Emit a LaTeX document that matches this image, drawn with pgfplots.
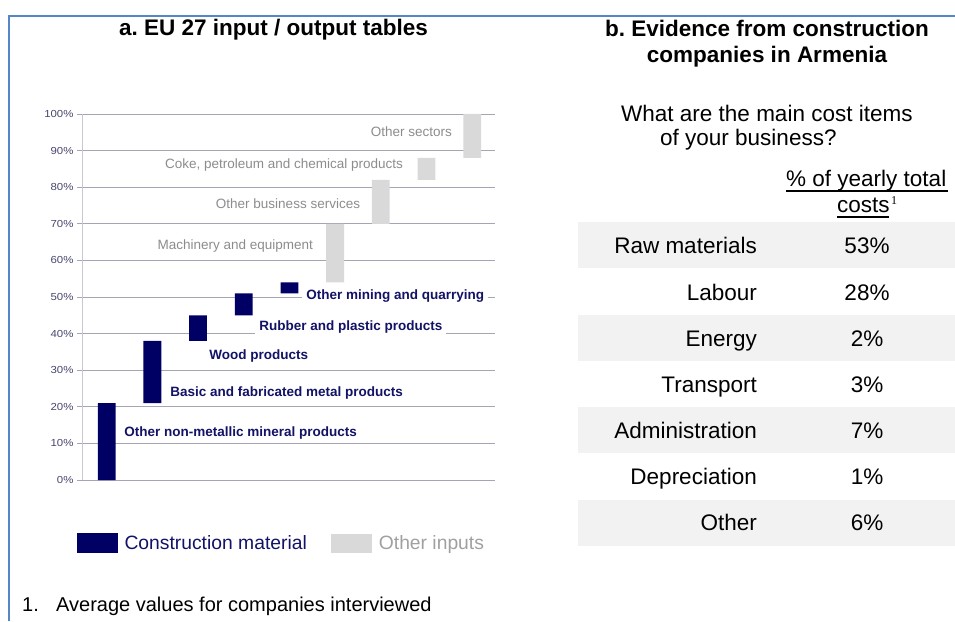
\documentclass[border=0pt]{standalone}
\usepackage{graphicx}
\usepackage{pgfplots}
\usepackage{pgfplotstable}
\pgfplotsset{compat=1.18}
\usepackage{fontspec}
\setmainfont{Liberation Sans}
\newfontfamily\seriffont{Liberation Serif}
\frenchspacing

\definecolor{navy}{RGB}{0,0,100}
\definecolor{navytext}{RGB}{18,18,102}
\definecolor{lgray}{RGB}{217,217,217}
\definecolor{graytext}{RGB}{140,140,140}
\definecolor{legray}{RGB}{160,160,160}
\definecolor{gridc}{RGB}{165,165,182}
\definecolor{axisc}{RGB}{200,200,210}
\definecolor{framec}{RGB}{84,134,200}
\definecolor{band}{RGB}{242,242,242}
\definecolor{ticktext}{RGB}{70,70,110}

\pgfplotstableread{
x base dark other
1 0  21 0
2 21 17 0
3 38 7  0
4 45 6  0
5 51 3  0
6 54 0  16
7 70 0  12
8 82 0  6
9 88 0  12
}\data

\newcommand\tfont{\fontsize{22.5pt}{27pt}\selectfont}
\newcommand\lfont{\fontsize{13.5pt}{15pt}\selectfont}

\begin{document}
\begin{tikzpicture}
\path[use as bounding box] (0pt,0pt) rectangle (955pt,621pt);
% frame
\draw[framec,line width=2.5pt] (9pt,0pt) -- (9pt,605pt) -- (955pt,605pt);

% titles
\node[anchor=base, font=\bfseries\tfont] at (273.5pt,585pt) {a. EU 27 input / output tables};
\node[anchor=base, font=\bfseries\tfont] at (767pt,584pt) {b. Evidence from construction};
\node[anchor=base, font=\bfseries\tfont] at (767pt,558pt) {companies in Armenia};

% question
\node[anchor=base west, font=\tfont, inner sep=0pt] at (621pt,499pt) {What are the main cost items};
\node[anchor=base west, font=\tfont, inner sep=0pt] at (660pt,475pt) {of your business?};
\node[anchor=base west, font=\tfont, inner sep=0pt] at (786pt,434pt) {\% of yearly total};
\draw[line width=1.5pt] (786pt,430pt) -- (948pt,430pt);
\node[anchor=base west, font=\tfont, inner sep=0pt] at (837pt,408pt) {costs};
\draw[line width=1.5pt] (837pt,404pt) -- (889pt,404pt);
\node[anchor=base west, font=\seriffont\fontsize{12pt}{14pt}\selectfont, inner sep=0pt] at (891pt,416pt) {1};

% table bands
\fill[band] (578pt,353pt) rectangle (955pt,399pt);
\fill[band] (578pt,260pt) rectangle (955pt,306pt);
\fill[band] (578pt,168pt) rectangle (955pt,214pt);
\fill[band] (578pt,75pt) rectangle (955pt,121pt);

% table text
\foreach \lab/\val/\yy in {Raw materials/53\%/367, Labour/28\%/320, Energy/2\%/274, Transport/3\%/228, Administration/7\%/182, Depreciation/1\%/136, Other/6\%/90}{
  \node[anchor=base east, font=\tfont, inner sep=0pt] at (757pt,\yy pt) {\lab};
  \node[anchor=base, font=\tfont, inner sep=0pt] at (867pt,\yy pt) {\val};
}

% footnote
\node[anchor=base west, font=\fontsize{20pt}{24pt}\selectfont, inner sep=0pt] at (22pt,10pt) {1.};
\node[anchor=base west, font=\fontsize{20pt}{24pt}\selectfont, inner sep=0pt] at (56pt,10pt) {Average values for companies interviewed};

\begin{axis}[
  at={(82pt,141pt)}, anchor=south west,
  width=413pt, height=366pt, scale only axis,
  xmin=0.46, xmax=9.5, ymin=0, ymax=100,
  axis x line=none, axis y line*=left,
  y axis line style={draw=axisc, line width=0.8pt},
  ytick={0,10,...,100},
  ymajorgrids, grid style={gridc, line width=0.8pt},
  ytick style={draw=gridc, line width=0.8pt},
  tick align=outside, major tick length=5pt,
  /pgf/number format/assume math mode=true,
  yticklabel={\scalebox{1.12}[1]{\pgfmathprintnumber{\tick}\%}},
  yticklabel style={font=\fontsize{10.2pt}{12pt}\selectfont, text=ticktext},
  ybar stacked, bar width=0.39,
  clip=false,
  legend style={at={(-0.021,-0.172)}, anchor=west, draw=none, fill=none,
    font=\fontsize{19.3pt}{22pt}\selectfont, legend columns=2,
    /tikz/every odd column/.append style={column sep=7pt},
    /tikz/every even column/.append style={column sep=24pt},
    nodes={inner sep=0pt}},
]
\addplot[fill=none, draw=none, forget plot] table[x=x,y=base]{\data};
\addplot[fill=navy, draw=none, legend image code/.code={\fill[navy] (0pt,-10pt) rectangle (41pt,10pt);}] table[x=x,y=dark]{\data};
\addplot[fill=lgray, draw=none, legend image code/.code={\fill[lgray] (0pt,-10pt) rectangle (41pt,9pt);}] table[x=x,y=other]{\data};
\addlegendentry{\textcolor{navytext}{Construction material}}
\addlegendentry{\textcolor{legray}{Other inputs}}

% bold navy labels
\node[anchor=west, font=\bfseries\lfont, text=navytext, fill=white, inner xsep=4pt, inner ysep=3.5pt] at (axis cs:1.295,12.8) {Other non-metallic mineral products};
\node[anchor=west, font=\bfseries\lfont, text=navytext, fill=white, inner xsep=4pt, inner ysep=3.5pt] at (axis cs:2.302,23.8) {Basic and fabricated metal products};
\node[anchor=west, font=\bfseries\lfont, text=navytext, fill=white, inner xsep=4pt, inner ysep=3.5pt] at (axis cs:3.155,33.9) {Wood products};
\node[anchor=west, font=\bfseries\lfont, text=navytext, fill=white, inner xsep=4pt, inner ysep=3.5pt] at (axis cs:4.25,41.8) {Rubber and plastic products};
\node[anchor=west, font=\bfseries\lfont, text=navytext, fill=white, inner xsep=4pt, inner ysep=3.5pt] at (axis cs:5.278,50.3) {Other mining and quarrying};

% gray labels
\node[anchor=east, font=\lfont, text=graytext, inner sep=0pt] at (axis cs:8.56,95.1) {Other sectors};
\node[anchor=east, font=\lfont, text=graytext, inner sep=0pt] at (axis cs:7.49,86) {Coke, petroleum and chemical products};
\node[anchor=east, font=\lfont, text=graytext, inner sep=0pt] at (axis cs:6.55,75.4) {Other business services};
\node[anchor=east, font=\lfont, text=graytext, inner sep=0pt] at (axis cs:5.52,64) {Machinery and equipment};
\end{axis}
\end{tikzpicture}
\end{document}
